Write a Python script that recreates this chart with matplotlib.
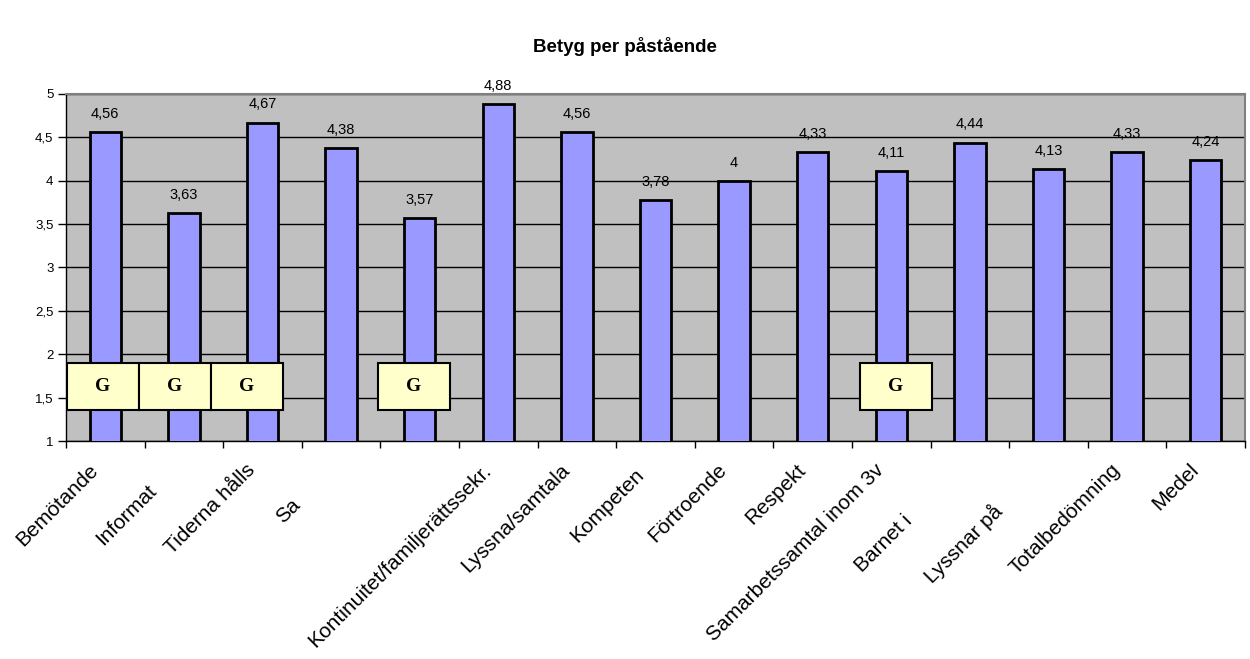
import numpy as np
import matplotlib.pyplot as plt
from matplotlib.patches import Rectangle

categories = ['Bemötande', 'Informat', 'Tiderna hålls', 'Sa', '',
              'Kontinuitet/familjerättssekr.', 'Lyssna/samtala', 'Kompeten',
              'Förtroende', 'Respekt', 'Samarbetssamtal inom 3v', 'Barnet i',
              'Lyssnar på', 'Totalbedömning', 'Medel']
values = [4.56, 3.63, 4.67, 4.38, 3.57, 4.88, 4.56, 3.78, 4.0, 4.33,
          4.11, 4.44, 4.13, 4.33, 4.24]
value_labels = ['4,56', '3,63', '4,67', '4,38', '3,57', '4,88', '4,56', '3,78',
                '4', '4,33', '4,11', '4,44', '4,13', '4,33', '4,24']
yticks = [1, 1.5, 2, 2.5, 3, 3.5, 4, 4.5, 5]
ytick_labels = ['1', '1,5', '2', '2,5', '3', '3,5', '4', '4,5', '5']
g_cats = [0, 1, 2, 4, 10]
g_text = 'G'

# layout only: how far the clipped labels slide down along their own line (pt)
label_shift = [0, 21, 0, 35, 0, 0, 0, 5, 0, 0, 0, 52, 41, 0, 0]
g_left = [-0.487, 0.429, 1.345, 3.47, 9.60]

plt.rcParams['font.family'] = ['Liberation Sans', 'DejaVu Sans']

fig = plt.figure(figsize=(12.5, 6.59), dpi=100)
ax = fig.add_axes([0.0528, 0.3308, 0.9432, 0.5266])
ax.set_facecolor('#C0C0C0')

x = np.arange(len(values))
ax.bar(x, values, width=0.4, bottom=0, color='#9999FF', edgecolor='black',
       linewidth=2, zorder=3)
ax.set_xlim(-0.5, len(values) - 0.5)
ax.set_ylim(1, 5)

ax.set_yticks(yticks)
ax.set_yticklabels(ytick_labels, fontsize=9.5)
ax.tick_params(axis='y', direction='out', length=6, width=1, pad=3)
ax.grid(axis='y', color='black', linewidth=1, zorder=1)
ax.set_axisbelow(True)

ax.set_xticks(np.arange(len(values) + 1) - 0.5)
ax.set_xticklabels([])
ax.tick_params(axis='x', direction='out', length=5, width=1)

for s in ['left', 'bottom']:
    ax.spines[s].set_color('black')
    ax.spines[s].set_linewidth(1)
for s in ['top', 'right']:
    ax.spines[s].set_color('#808080')
    ax.spines[s].set_linewidth(1.5)

for i, v in enumerate(values):
    ax.annotate(value_labels[i], xy=(i, v), xytext=(0, 8),
                textcoords='offset points', ha='center', va='bottom',
                fontsize=10.5, annotation_clip=False)

for i, lab in enumerate(categories):
    d = label_shift[i] / np.sqrt(2)
    ax.annotate(lab, xy=(i, 0), xycoords=('data', 'axes fraction'),
                xytext=(-12 - d, -14 - d), textcoords='offset points',
                rotation=45, rotation_mode='anchor', ha='right', va='top',
                fontsize=15)

for k, c in enumerate(g_cats):
    r = Rectangle((g_left[k], 1.356), 0.916, 0.541, facecolor='#FFFFCC',
                  edgecolor='black', linewidth=1.5, zorder=5)
    ax.add_patch(r)
    ax.text(g_left[k] + 0.458, 1.626, g_text, ha='center', va='center',
            fontsize=14, fontweight='bold', family='Liberation Serif', zorder=6)

fig.text(0.5, 1 - 47 / 659, 'Betyg per påstående', ha='center', va='center',
         fontsize=13.5, fontweight='bold')

fig.savefig('out.png', dpi=100)
